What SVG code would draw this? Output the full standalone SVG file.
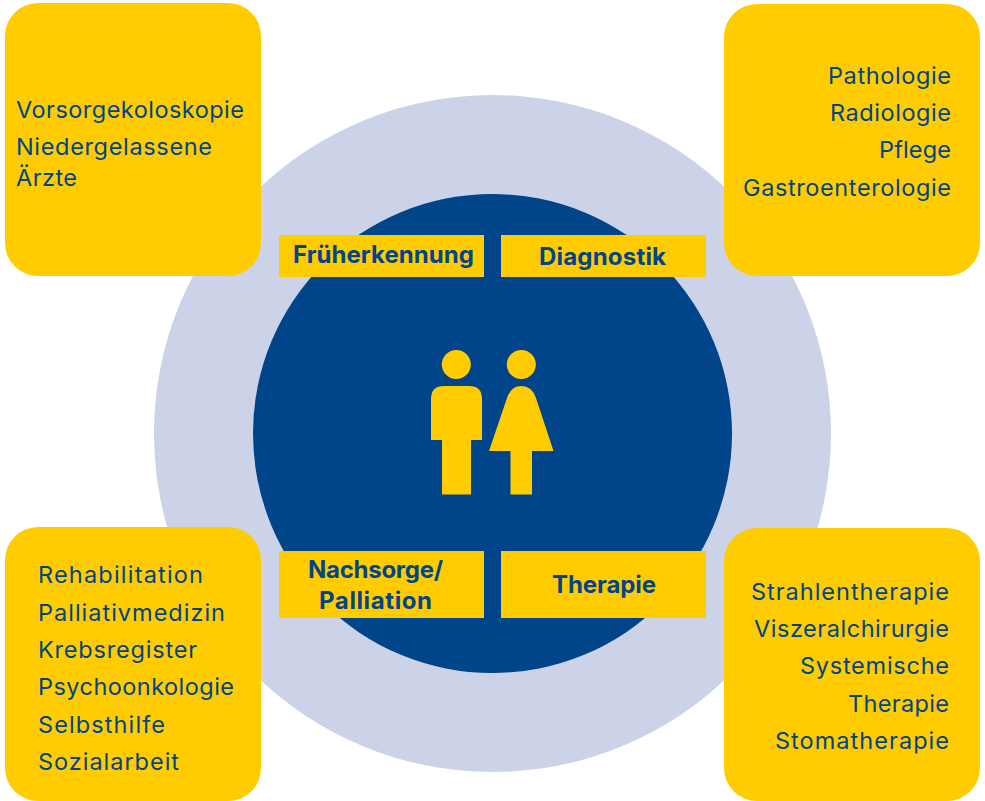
<svg xmlns="http://www.w3.org/2000/svg" width="985" height="801" viewBox="0 0 985 801">
<style>
.box{fill:#ffcc00}
text{font-family:"Inter","Liberation Sans",sans-serif;fill:#004489}
.t{font-size:23.500px}
.b{font-size:24px;font-weight:700;text-anchor:middle}
.r{text-anchor:end}
</style>
<rect width="985" height="801" fill="#fff"/>
<circle cx="492.500" cy="433.500" r="338.500" fill="#ccd3e8"/>
<circle cx="492.500" cy="433.500" r="239.500" fill="#004489"/>
<g id="box-tl"><rect class="box" x="5" y="3" width="256" height="273" rx="33"/>
<text class="t" x="16" y="118" textLength="228">Vorsorgekoloskopie</text><text class="t" x="16" y="155" textLength="196">Niedergelassene</text><text class="t" x="16" y="186" textLength="61">Ärzte</text></g>
<g id="box-tr"><rect class="box" x="724" y="4" width="256" height="272" rx="33"/>
<text class="t r" x="951" y="84" textLength="123">Pathologie</text><text class="t r" x="951" y="121" textLength="121">Radiologie</text><text class="t r" x="951" y="158" textLength="72">Pflege</text><text class="t r" x="951" y="196" textLength="208">Gastroenterologie</text></g>
<g id="box-bl"><rect class="box" x="5" y="527" width="256" height="274" rx="33"/>
<text class="t" x="38" y="583" textLength="165">Rehabilitation</text><text class="t" x="38" y="621" textLength="187">Palliativmedizin</text><text class="t" x="38" y="658" textLength="159">Krebsregister</text><text class="t" x="38" y="695" textLength="196">Psychoonkologie</text><text class="t" x="38" y="733" textLength="127">Selbsthilfe</text><text class="t" x="38" y="770" textLength="141">Sozialarbeit</text></g>
<g id="box-br"><rect class="box" x="724" y="528" width="256" height="273" rx="33"/>
<text class="t r" x="949" y="600" textLength="198">Strahlentherapie</text><text class="t r" x="949" y="637" textLength="195">Viszeralchirurgie</text><text class="t r" x="949" y="674" textLength="149">Systemische</text><text class="t r" x="949" y="712" textLength="101">Therapie</text><text class="t r" x="949" y="749" textLength="174">Stomatherapie</text></g>
<g id="step-fe"><rect class="box" x="279" y="235" width="205" height="42"/><text class="b" x="383.500" y="263" textLength="181">Früherkennung</text></g>
<g id="step-di"><rect class="box" x="501" y="235" width="205" height="42"/><text class="b" x="602.500" y="265" textLength="127">Diagnostik</text></g>
<g id="step-na"><rect class="box" x="279" y="551" width="205" height="67"/><text class="b" x="375.500" y="578" textLength="135">Nachsorge/</text><text class="b" x="375.500" y="609" textLength="113">Palliation</text></g>
<g id="step-th"><rect class="box" x="501" y="551" width="205" height="67"/><text class="b" x="604" y="593" textLength="104">Therapie</text></g>
<g id="people" fill="#ffcc00">
<circle cx="456.300" cy="364.500" r="14.500"/>
<path d="M431 440V399Q431 386 444 386H469Q482 386 482 399V440H471V494.500H442V440Z"/>
<circle cx="521.300" cy="364.500" r="14.500"/>
<path d="M489 451L507 398Q511 386 521.300 386Q532 386 536 398L553.500 451H532V494.500H510.500V451Z"/>
</g>
</svg>
